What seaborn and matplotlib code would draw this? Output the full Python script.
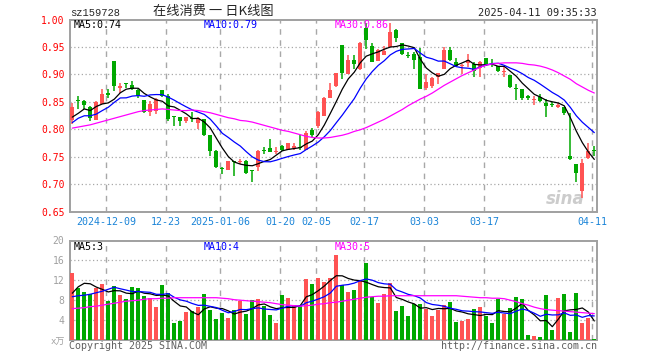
import numpy as np
import pandas as pd
import seaborn as sns
import matplotlib
matplotlib.use("Agg")
from matplotlib import pyplot as plt

# ---- data ----
tick_labels = ['2024-12-09', '12-23', '2025-01-06', '01-20', '02-05', '02-17', '03-03', '03-17', '04-11']
tick_idx = [6, 16, 25, 35, 41, 49, 59, 69, 87]

open_ = [0.817, 0.853, 0.852, 0.840, 0.817, 0.846, 0.866, 0.925, 0.876, 0.883,
         0.881, 0.872, 0.854, 0.832, 0.834, 0.872, 0.861, 0.824, 0.823, 0.815,
         0.819, 0.812, 0.818, 0.789, 0.760, 0.729, 0.726, 0.741, 0.740, 0.742,
         0.725, 0.731, 0.762, 0.766, 0.759, 0.769, 0.763, 0.766, 0.768, 0.763,
         0.798, 0.806, 0.825, 0.857, 0.879, 0.954, 0.901, 0.926, 0.910, 0.985,
         0.952, 0.924, 0.935, 0.950, 0.981, 0.957, 0.934, 0.937, 0.932, 0.875,
         0.878, 0.895, 0.910, 0.945, 0.922, 0.915, 0.921, 0.919, 0.912, 0.930,
         0.921, 0.915, 0.905, 0.898, 0.874, 0.873, 0.861, 0.854, 0.858, 0.847,
         0.845, 0.840, 0.840, 0.751, 0.737, 0.687, 0.748, 0.7605]
high = [0.847, 0.860, 0.853, 0.842, 0.851, 0.873, 0.873, 0.925, 0.884, 0.885,
        0.887, 0.873, 0.854, 0.852, 0.856, 0.872, 0.864, 0.824, 0.823, 0.823,
        0.832, 0.823, 0.818, 0.789, 0.763, 0.732, 0.742, 0.742, 0.746, 0.744,
        0.726, 0.762, 0.768, 0.783, 0.768, 0.772, 0.774, 0.775, 0.790, 0.796,
        0.803, 0.834, 0.858, 0.884, 0.902, 0.954, 0.935, 0.935, 0.959, 0.993,
        0.958, 0.947, 0.951, 0.993, 0.982, 0.957, 0.941, 0.941, 0.948, 0.900,
        0.895, 0.902, 0.950, 0.950, 0.930, 0.919, 0.938, 0.922, 0.924, 0.930,
        0.928, 0.916, 0.913, 0.898, 0.883, 0.873, 0.862, 0.861, 0.864, 0.855,
        0.849, 0.847, 0.841, 0.829, 0.737, 0.745, 0.775, 0.770]
low = [0.809, 0.837, 0.837, 0.815, 0.817, 0.846, 0.856, 0.870, 0.866, 0.875,
       0.872, 0.857, 0.830, 0.824, 0.828, 0.859, 0.815, 0.806, 0.806, 0.812,
       0.813, 0.800, 0.788, 0.752, 0.729, 0.719, 0.725, 0.714, 0.736, 0.719,
       0.703, 0.724, 0.755, 0.758, 0.755, 0.761, 0.762, 0.763, 0.763, 0.763,
       0.786, 0.803, 0.825, 0.857, 0.877, 0.892, 0.901, 0.910, 0.908, 0.947,
       0.922, 0.924, 0.935, 0.950, 0.959, 0.936, 0.929, 0.910, 0.873, 0.871,
       0.875, 0.883, 0.910, 0.925, 0.913, 0.900, 0.913, 0.895, 0.895, 0.916,
       0.914, 0.904, 0.896, 0.875, 0.853, 0.853, 0.854, 0.845, 0.849, 0.823,
       0.840, 0.838, 0.826, 0.743, 0.704, 0.675, 0.745, 0.751]
close = [0.841, 0.852, 0.845, 0.820, 0.849, 0.864, 0.862, 0.879, 0.878, 0.882,
         0.873, 0.861, 0.832, 0.846, 0.855, 0.861, 0.818, 0.823, 0.815, 0.823,
         0.818, 0.820, 0.790, 0.760, 0.731, 0.728, 0.742, 0.740, 0.741, 0.720,
         0.724, 0.761, 0.761, 0.758, 0.760, 0.763, 0.774, 0.769, 0.766, 0.794,
         0.789, 0.832, 0.857, 0.872, 0.902, 0.902, 0.926, 0.918, 0.958, 0.962,
         0.923, 0.944, 0.942, 0.978, 0.967, 0.938, 0.933, 0.927, 0.874, 0.886,
         0.894, 0.902, 0.944, 0.927, 0.916, 0.916, 0.926, 0.906, 0.922, 0.918,
         0.920, 0.907, 0.906, 0.877, 0.873, 0.857, 0.856, 0.855, 0.852, 0.843,
         0.844, 0.845, 0.829, 0.745, 0.720, 0.739, 0.761, 0.760]
volume = [13.5, 10.4, 9.6, 9.2, 10.5, 11.2, 7.8, 10.9, 9.0, 8.2,
          10.6, 10.4, 8.8, 8.4, 6.6, 11.0, 9.4, 3.4, 3.8, 5.6,
          5.9, 6.7, 9.2, 6.0, 4.2, 5.5, 4.4, 6.0, 7.9, 5.2,
          8.0, 8.2, 6.9, 5.0, 3.4, 9.0, 8.4, 7.0, 6.8, 12.2,
          11.2, 12.4, 11.6, 12.4, 17.0, 11.1, 9.7, 10.0, 11.8, 15.5,
          8.7, 7.5, 9.2, 11.5, 5.8, 6.8, 4.9, 7.3, 7.2, 6.3,
          4.9, 6.0, 7.0, 7.6, 3.7, 3.8, 4.2, 6.2, 6.7, 4.9,
          3.5, 8.2, 5.3, 6.5, 8.7, 8.2, 1.0, 0.8, 0.6, 9.0,
          2.0, 8.5, 9.2, 1.6, 9.4, 3.5, 4.4, 0.2]

# moving averages: first values (history before the window)
ma5_head = [0.822, 0.829, 0.837, 0.834]
ma10_head = [0.812, 0.820, 0.8245, 0.8245, 0.8275, 0.834, 0.840, 0.849, 0.857]
ma30 = [0.802, 0.804, 0.806, 0.808, 0.811, 0.814, 0.817, 0.820, 0.823, 0.826,
        0.829, 0.832, 0.834, 0.835, 0.836, 0.837, 0.836, 0.835, 0.834, 0.834,
        0.835, 0.834, 0.832, 0.830, 0.827, 0.824, 0.821, 0.819, 0.816, 0.815,
        0.813, 0.810, 0.807, 0.804, 0.801, 0.798, 0.796, 0.793, 0.790, 0.787,
        0.785, 0.784, 0.784, 0.785, 0.787, 0.789, 0.792, 0.796, 0.799, 0.803,
        0.808, 0.813, 0.818, 0.824, 0.830, 0.836, 0.843, 0.849, 0.855, 0.860,
        0.866, 0.873, 0.880, 0.886, 0.892, 0.898, 0.903, 0.908, 0.913, 0.917,
        0.919, 0.920, 0.921, 0.921, 0.921, 0.920, 0.918, 0.917, 0.915, 0.912,
        0.908, 0.903, 0.897, 0.891, 0.883, 0.877, 0.871, 0.866]
vol_ma5_head = [9.4, 10.7, 11.4, 11.3]
vol_ma10_head = [8.7, 8.9, 9.0, 9.2, 9.5, 9.8, 10.2, 10.6, 10.3]
vol_ma30 = [6.3, 6.4, 6.5, 6.7, 6.8, 7.0, 7.2, 7.4, 7.6, 7.8,
            7.9, 8.0, 8.2, 8.3, 8.3, 8.4, 8.4, 8.5, 8.5, 8.5,
            8.5, 8.5, 8.5, 8.5, 8.5, 8.4, 8.3, 8.1, 8.0, 7.9,
            7.8, 7.7, 7.6, 7.5, 7.3, 7.1, 7.0, 6.9, 6.8, 6.9,
            7.0, 7.2, 7.3, 7.5, 7.6, 7.8, 8.0, 8.2, 8.4, 8.6,
            8.7, 8.8, 8.8, 8.9, 8.9, 8.9, 8.9, 8.9, 8.9, 8.9,
            8.9, 8.9, 8.9, 8.9, 8.9, 8.8, 8.7, 8.6, 8.5, 8.5,
            8.4, 8.4, 8.3, 8.0, 7.7, 7.3, 7.0, 6.6, 6.3, 6.1,
            6.0, 5.9, 5.8, 5.7, 5.6, 5.5, 5.4, 5.3]

RED = '#ff5353'
GREEN = '#00a800'
GRID = '#a8a8a8'
FRAME = '#a0a0a0'
DATE_BLUE = '#1a84d8'

df = pd.DataFrame({'open': open_, 'high': high, 'low': low, 'close': close, 'volume': volume})
df['idx'] = np.arange(len(df))
df['up'] = df['close'] >= df['open']
df['ma5'] = df['close'].rolling(5).mean()
df.loc[:3, 'ma5'] = ma5_head
df['ma10'] = df['close'].rolling(10).mean()
df.loc[:8, 'ma10'] = ma10_head
df['ma30'] = ma30
df['vma5'] = df['volume'].rolling(5).mean()
df.loc[:3, 'vma5'] = vol_ma5_head
df['vma10'] = df['volume'].rolling(10).mean()
df.loc[:8, 'vma10'] = vol_ma10_head
df['vma30'] = vol_ma30

sns.set_style('white')
plt.rcParams['font.family'] = ['DejaVu Sans Mono', 'Noto Sans CJK SC']

W, H = 660, 360
fig = plt.figure(figsize=(W / 100, H / 100), dpi=100)


def fx(x):
    return x / W


def fy(y):
    return 1 - y / H


XLIM = (-0.38, 87.45)
ax = fig.add_axes([fx(70), fy(211.5), (597 - 70) / W, (211.5 - 19.5) / H])
axv = fig.add_axes([fx(70), fy(340), (597 - 70) / W, (340 - 240.5) / H])

# ---- candles ----
colors = np.where(df['up'], RED, GREEN)
body_lo = np.minimum(df['open'], df['close'])
body_h = np.maximum(np.abs(df['close'] - df['open']), 0.0016)
ax.vlines(df['idx'], df['low'], df['high'], colors=colors, lw=1.1, zorder=3)
ax.bar(df['idx'], body_h, bottom=body_lo, width=0.72, color=colors, lw=0, zorder=4)

sns.lineplot(data=df, x='idx', y='ma5', color='black', lw=0.9, ax=ax, zorder=5)
sns.lineplot(data=df, x='idx', y='ma10', color='#0000ff', lw=0.9, ax=ax, zorder=5)
sns.lineplot(data=df, x='idx', y='ma30', color='#ff00ff', lw=0.9, ax=ax, zorder=5)

ax.set_xlim(*XLIM)
ax.set_ylim(0.65, 1.00)
yt = [0.65, 0.70, 0.75, 0.80, 0.85, 0.90, 0.95, 1.00]
ax.set_yticks(yt)
ax.set_yticklabels([f'{v:.2f}' for v in yt])
ax.tick_params(axis='y', length=0, pad=4, labelsize=7, labelcolor='red')
grid_x = [i - 0.35 for i in tick_idx]
ax.set_xticks(grid_x)
ax.set_xticklabels(tick_labels)
ax.tick_params(axis='x', length=0, pad=4, labelsize=7.2, labelcolor=DATE_BLUE)
for v in yt[1:-1]:
    ax.axhline(v, color=GRID, lw=0.9, ls=(0, (1, 2)), zorder=1)
for gx in grid_x:
    ax.axvline(gx, color=GRID, lw=1.0, ls=(0, (4, 4)), zorder=1)
ax.set_xlabel('')
ax.set_ylabel('')

ax.text(0.94, 0.04, 'sina', transform=ax.transAxes, fontsize=12, style='italic',
        weight='bold', color='#cccccc', family='DejaVu Sans', ha='center', zorder=2)

# ---- volume ----
axv.bar(df['idx'], df['volume'], width=0.72, color=colors, lw=0, zorder=3)
sns.lineplot(x=df['idx'], y=df['vma5'], color='black', lw=0.9, ax=axv, zorder=5)
sns.lineplot(x=df['idx'], y=df['vma10'], color='#0000ff', lw=0.9, ax=axv, zorder=5)
sns.lineplot(x=df['idx'], y=df['vma30'], color='#ff00ff', lw=0.9, ax=axv, zorder=5)
axv.set_xlim(*XLIM)
axv.set_ylim(0, 20)
vt = [4, 8, 12, 16, 20]
axv.set_yticks(vt)
axv.set_yticklabels([str(v) for v in vt])
axv.tick_params(axis='y', length=0, pad=4, labelsize=7, labelcolor='#a0a0a0')
axv.set_xticks([])
for v in vt[:-1]:
    axv.axhline(v, color=GRID, lw=0.9, ls=(0, (1, 2)), zorder=1)
for gx in grid_x:
    axv.axvline(gx, color=GRID, lw=1.0, ls=(0, (4, 4)), zorder=1)
axv.set_xlabel('')
axv.set_ylabel('')

for a in (ax, axv):
    for s in a.spines.values():
        s.set_color(FRAME)
        s.set_linewidth(1.4)
        s.set_visible(True)

# ---- texts ----
fig.text(fx(70), fy(13), 'sz159728', fontsize=7.5, va='center', family='Liberation Mono')
fig.text(fx(213), fy(12), '在线消费 一 日K线图', fontsize=9.5, ha='center', va='center',
         family=['Noto Sans CJK SC', 'DejaVu Sans'])
fig.text(fx(597), fy(13), '2025-04-11 09:35:33', fontsize=7.5, ha='right', va='center')

fig.text(fx(74), fy(25.5), 'MA5:0.74', fontsize=7.2, va='center', color='black')
fig.text(fx(204), fy(25.5), 'MA10:0.79', fontsize=7.2, va='center', color='#0000ff')
fig.text(fx(335), fy(25.5), 'MA30:0.86', fontsize=7.2, va='center', color='#ff00ff')

fig.text(fx(74), fy(246.5), 'MA5:3', fontsize=7.2, va='center', color='black')
fig.text(fx(204), fy(246.5), 'MA10:4', fontsize=7.2, va='center', color='#0000ff')
fig.text(fx(335), fy(246.5), 'MA30:5', fontsize=7.2, va='center', color='#ff00ff')

fig.text(fx(65), fy(342), 'x万', fontsize=6.5, ha='right', va='center', color='#a0a0a0',
         family=['DejaVu Sans Mono', 'Noto Sans CJK SC'])
fig.text(fx(69), fy(346), 'Copyright 2025 SINA.COM', fontsize=7.2, va='center', color='#606060')
fig.text(fx(597), fy(346), 'http://finance.sina.com.cn', fontsize=7.2, ha='right', va='center',
         color='#606060')

fig.savefig('out.png', dpi=100)
